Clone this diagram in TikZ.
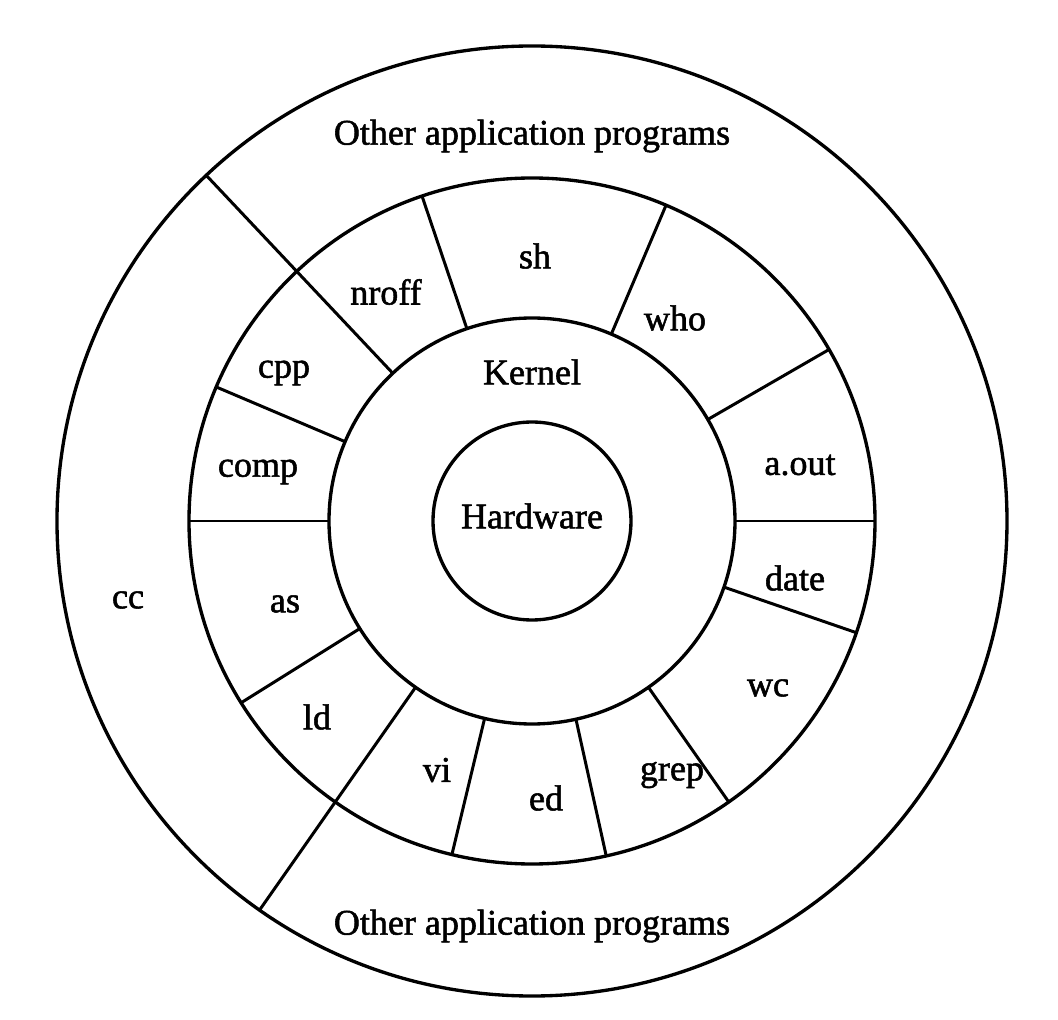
\documentclass[tikz,border=0pt]{standalone}
\usepackage{fontspec}
\setmainfont{Liberation Serif}
\newfontfamily\lblfont[FakeBold=1.5]{Liberation Serif}
\begin{document}
\begin{tikzpicture}[line width=1.7pt,
  lbl/.style={font=\lblfont\fontsize{20.5}{24}\selectfont, inner sep=0pt},
  ring/.style={line width=1.9pt}]
\useasboundingbox (-10.64,-9.96) rectangle (10.52,10.42);
\def\Ro{9.5}\def\Rm{6.86}\def\Rk{4.06}\def\Rh{1.98}
\draw[ring] (0,0) circle (\Ro);
\draw[ring] (0,0) circle (\Rm);
\draw[ring] (0,0) circle (\Rk);
\draw[ring] (0,0) circle (\Rh);
% dividers in tool ring
\foreach \a in {108.7,67,30,0,-19,-55,-77.5,-103.5,-148,180,157}
  \draw (\a:\Rk) -- (\a:\Rm);
% cc boundaries
\draw (133.3:\Rk) -- (133.3:\Ro);
\draw (-125:\Rk) -- (-125:\Ro);
% labels
\node[lbl] (hw) at (0,0.1) {Hardware};
\node[lbl] (kernel) at (0,2.98) {Kernel};
\node[lbl] (sh) at (0.06,5.3) {sh};
\node[lbl] (who) at (2.86,4.06) {who};
\node[lbl] (aout) at (5.36,1.12) {a.out};
\node[lbl] (date) at (5.26,-1.14) {date};
\node[lbl] (wc) at (4.72,-3.34) {wc};
\node[lbl] (grep) at (2.8,-5.08) {grep};
\node[lbl] (ed) at (0.28,-5.54) {ed};
\node[lbl] (vi) at (-1.9,-4.98) {vi};
\node[lbl] (ld) at (-4.3,-3.92) {ld};
\node[lbl] (as) at (-4.94,-1.66) {as};
\node[lbl] (comp) at (-5.48,0.98) {comp};
\node[lbl] (cpp) at (-4.96,2.96) {cpp};
\node[lbl] (nroff) at (-2.92,4.58) {nroff};
\node[lbl] (cc) at (-8.08,-1.58) {cc};
\node[lbl] (otop) at (0,7.7) {Other application programs};
\node[lbl] (obot) at (0,-8.1) {Other application programs};
\end{tikzpicture}
\end{document}
